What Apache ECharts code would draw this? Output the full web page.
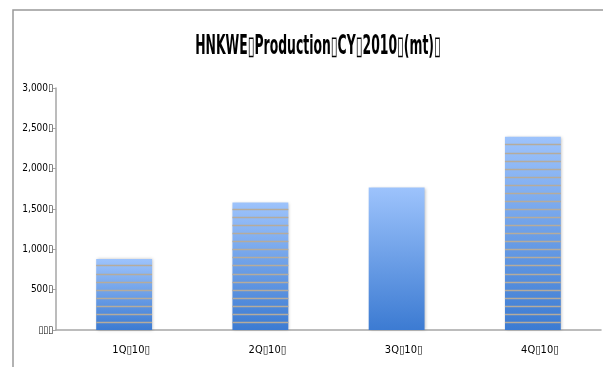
<!DOCTYPE html>
<html lang="en">

<head>
    <meta charset="UTF-8">
    <title>HNKWE Production CY 2010</title>
    <style>
        html, body { margin: 0; padding: 0; background: #fff; }
        #chart { width: 603px; height: 367px; }
    </style>
</head>

<body>
    <div id="chart"></div>
</body>
<script src="https://cdn.jsdelivr.net/npm/echarts@6/dist/echarts.min.js"></script>
<script>
    // production per quarter (mt)
    let quarters = ['1Q\u25AF10\u25AF', '2Q\u25AF10\u25AF', '3Q\u25AF10\u25AF', '4Q\u25AF10\u25AF'];
    let production = [880, 1580, 1765, 2395];
    // which bars carry the horizontal stripes (3Q has none)
    let striped = [true, true, false, true];
    let stripeStep = 100;

    let titleText = 'HNKWE\u25AFProduction\u25AFCY\u25AF2010\u25AF(mt)\u25AF';
    let narrow = '"Liberation Sans Narrow", "DejaVu Sans Condensed", sans-serif';

    var myChart = echarts.init(document.getElementById('chart'));

    let fmtTick = (v) => {
        if (v === 0) return '\u25AF\u25AF\u25AF';
        return v.toLocaleString('en-US') + '\u25AF';
    };

    let stripeData = production.map((v, i) => [i, v, striped[i] ? 1 : 0]);

    myChart.setOption({
        animation: false,
        graphic: [{
            type: 'rect',
            shape: { x: 13, y: 10, width: 620, height: 400 },
            style: { fill: 'none', stroke: '#999', lineWidth: 1.5 },
            silent: true
        }, {
            // title squeezed horizontally, the original font is very condensed
            type: 'text',
            x: 318,
            y: 47,
            scaleX: 0.53,
            style: {
                text: titleText,
                fontFamily: narrow,
                fontWeight: 'bold',
                fontSize: 26,
                fill: '#000',
                align: 'center',
                verticalAlign: 'middle'
            },
            silent: true
        }],
        grid: { left: 56, right: 2, top: 88, bottom: 37 },
        xAxis: {
            type: 'category',
            data: quarters,
            axisLine: { lineStyle: { color: '#a6a6a6', width: 1.5 } },
            axisTick: { show: false },
            axisLabel: { fontFamily: narrow, fontSize: 11, color: '#000', margin: 15, padding: [0, 0, 0, 14] }
        },
        yAxis: {
            type: 'value',
            min: 0,
            max: 3000,
            interval: 500,
            axisLine: { show: true, lineStyle: { color: '#a6a6a6', width: 1.5 } },
            axisTick: { show: true, length: 3, lineStyle: { color: '#a6a6a6' } },
            splitLine: { show: false },
            axisLabel: { fontFamily: narrow, fontSize: 10, color: '#000', margin: 3, formatter: fmtTick }
        },
        series: [{
            type: 'bar',
            data: production,
            barWidth: '41%',
            itemStyle: {
                color: new echarts.graphic.LinearGradient(0, 0, 0, 1, [
                    { offset: 0, color: '#9dc3fc' },
                    { offset: 1, color: '#3c7bd2' }
                ]),
                shadowColor: 'rgba(0,0,0,0.25)',
                shadowBlur: 3,
                shadowOffsetX: 1,
                shadowOffsetY: 0
            }
        }, {
            type: 'custom',
            data: stripeData,
            z: 3,
            silent: true,
            renderItem: (params, api) => {
                let idx = api.value(0);
                let val = api.value(1);
                if (!api.value(2)) return null;
                let w = api.size([1, 0])[0] * 0.41;
                let cx = api.coord([idx, 0])[0];
                let lines = [];
                for (let k = stripeStep; k <= val; k += stripeStep) {
                    let y = Math.round(api.coord([idx, k])[1]) + 0.5;
                    lines.push({
                        type: 'line',
                        shape: { x1: cx - w / 2, y1: y, x2: cx + w / 2, y2: y },
                        style: { stroke: '#b5ab9c', lineWidth: 1.5 }
                    });
                }
                return { type: 'group', children: lines };
            }
        }]
    });
</script>

</html>
